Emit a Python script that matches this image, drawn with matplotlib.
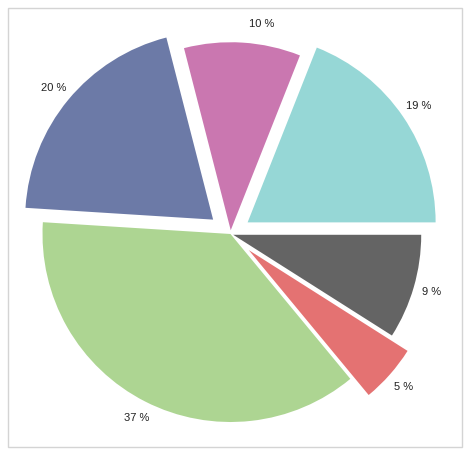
import matplotlib
matplotlib.use("Agg")
import matplotlib.pyplot as plt
from matplotlib.patches import Rectangle

# slice data, counter-clockwise from 3 o'clock
shares = [19, 10, 20, 37, 5, 9]
labels = ["19 %", "10 %", "20 %", "37 %", "5 %", "9 %"]
explode = [0.11, 0.02, 0.12, 0.0, 0.13, 0.015]
colors = ["#96D7D6", "#CA77B0", "#6C7AA7", "#ADD592", "#E47272", "#646464"]

W, H = 470, 457
R_PX = 188.0
CX, CY = 230.5, 234.0  # pie centre in image pixels (from top)

fig = plt.figure(figsize=(W / 100, H / 100), dpi=100)
fig.patch.set_facecolor("white")

# light grey frame around the chart
fig.add_artist(Rectangle((8 / W, (H - 447) / H), (462 - 8) / W, (447 - 8) / H,
                         transform=fig.transFigure, fill=False,
                         edgecolor="#D4D4D4", linewidth=1.0))

ax = fig.add_axes([0, 0, 1, 1])
wedges, texts = ax.pie(
    shares,
    labels=labels,
    explode=explode,
    colors=colors,
    startangle=0,
    counterclock=True,
    labeldistance=1.10,
    radius=1.0,
    textprops=dict(family=["Liberation Sans", "DejaVu Sans"], fontsize=8, color="#222222"),
)
for t in texts:
    t.set_horizontalalignment("center")
    t.set_verticalalignment("center")
# the 10 % label sits a little to the right in the original
texts[1].set_x(texts[1].get_position()[0] + 0.095)

ax.set_xlim(-CX / R_PX, (W - CX) / R_PX)
ax.set_ylim(-(H - CY) / R_PX, CY / R_PX)
ax.axis("off")

fig.savefig("out.png", dpi=100, facecolor="white")
